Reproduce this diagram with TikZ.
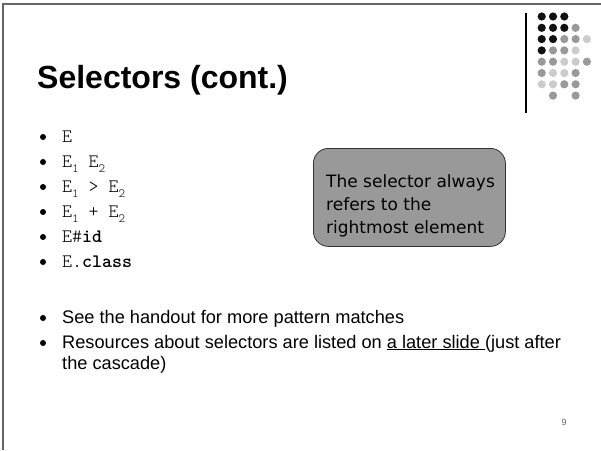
\documentclass[tikz,border=0pt]{standalone}
\usepackage{fontspec}
\setmainfont{Liberation Sans}
\newfontfamily\codefont{Latin Modern Mono Light}
\newfontfamily\notefont{DejaVu Sans}
\newcommand\subs[1]{\raisebox{-0.3em}{\fontsize{12.5}{12.5}\selectfont #1}}
\definecolor{dotdark}{HTML}{111111}
\definecolor{dotmid}{HTML}{999999}
\definecolor{dotlight}{HTML}{CCCCCC}
\definecolor{framegray}{HTML}{666666}
\definecolor{notefill}{HTML}{999999}
\tikzset{
  bulletdot/.style={circle, fill=black, inner sep=0pt, minimum size=6pt},
  codeitem/.style={anchor=base west, inner sep=0pt, font=\codefont\fontsize{19}{19}\selectfont},
  textitem/.style={anchor=base west, inner sep=0pt, font=\fontsize{18.2}{18.2}\selectfont},
  notebox/.style={draw=black!80, fill=notefill, rounded corners=15pt, line width=0.8pt, anchor=north west, inner sep=0pt},
  notetext/.style={anchor=base west, inner sep=0pt, font=\notefont\fontsize{17}{17}\selectfont},
}
\begin{document}
\begin{tikzpicture}[x=1pt,y=-1pt]
\useasboundingbox (0,0) rectangle (601,450);
% slide frame
\draw[framegray, line width=2pt] (3,450) -- (3,4) -- (601,4);
% decoration: vertical line and dot grid
\coordinate (vtop) at (526,13);
\coordinate (vbot) at (526,113);
\draw[black, line width=1.3pt] (vtop) -- (vbot);
\foreach \row/\cols in {
  0/{dotdark,dotdark,dotdark},
  1/{dotdark,dotdark,dotdark,dotmid},
  2/{dotdark,dotdark,dotmid,dotmid,dotlight},
  3/{dotdark,dotmid,dotmid,dotlight},
  4/{dotmid,dotmid,dotlight,dotlight,dotmid},
  5/{dotmid,dotlight,dotlight,dotmid},
  6/{dotlight,dotlight,dotmid,dotmid},
  7/{none,dotmid,none,dotmid}} {
  \foreach \c [count=\i from 0] in \cols {
    \def\tmp{none}\ifx\c\tmp\else
      \fill[\c] ({541.7+11.3*\i},{16.5+11.3*\row}) circle (4.1pt);
    \fi
  }
}
% title
\node[anchor=base west, inner sep=0pt, font=\fontsize{32}{32}\selectfont\bfseries] (title) at (37,88) {Selectors (cont.)};
% code bullets
\foreach \y/\n in {142/b1,167/b2,192/b3,217/b4,242/b5,267/b6} {
  \node[bulletdot] (\n) at (43,{\y-5}) {};
}
\node[codeitem] (c1) at (62,142) {E};
\node[codeitem] (c2) at (62,167) {E\subs{1} E\subs{2}};
\node[codeitem] (c3) at (62,192) {E\subs{1} > E\subs{2}};
\node[codeitem] (c4) at (62,217) {E\subs{1} + E\subs{2}};
\node[codeitem] (c5) at (62,242) {E\#\textbf{id}};
\node[codeitem] (c6) at (62,267) {E.\textbf{class}};
% note box
\node[notebox, minimum width=192pt, minimum height=98pt] (note) at (313,148) {};
\node[notetext] (nl1) at (326,187) {The selector always};
\node[notetext] (nl2) at (326,210) {refers to the};
\node[notetext] (nl3) at (326,233) {rightmost element};
% text bullets
\node[bulletdot] (b7) at (43,318) {};
\node[bulletdot] (b8) at (43,343) {};
\node[textitem] (t1) at (62,323) {See the handout for more pattern matches};
\node[textitem] (t2) at (62,348) {Resources about selectors are listed on \underline{a later slide }(just after};
\node[textitem] (t3) at (62,369) {the cascade)};
% page number
\node[anchor=base, inner sep=0pt, font=\fontsize{9}{9}\selectfont, text=black!60] (pnum) at (564,425) {9};
\end{tikzpicture}
\end{document}
